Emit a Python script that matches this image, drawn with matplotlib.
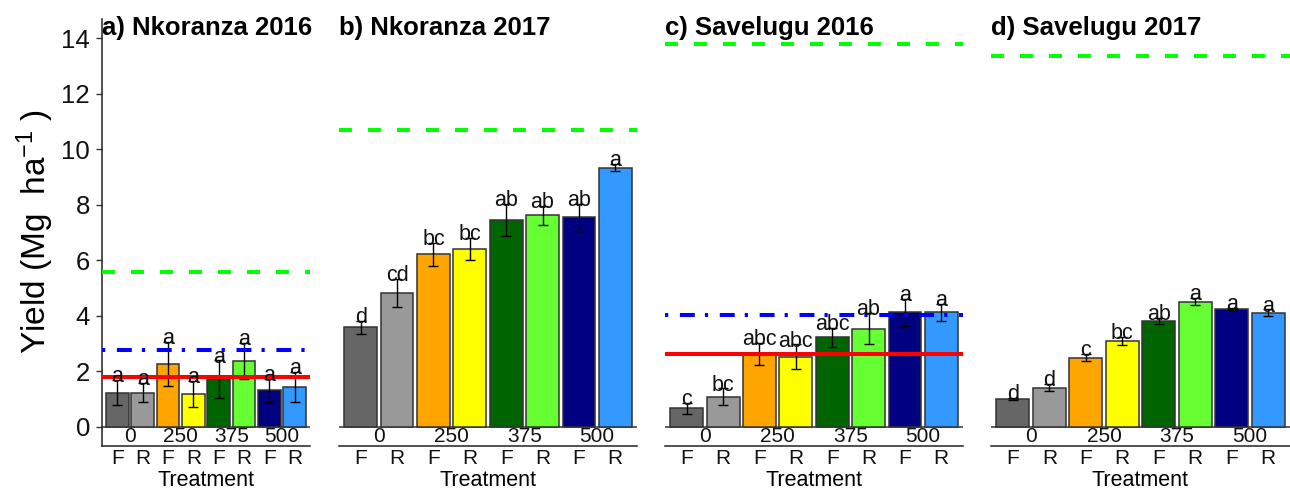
import matplotlib
matplotlib.use("Agg")
import matplotlib.pyplot as plt
import matplotlib.transforms as mtransforms

plt.rcParams['font.family'] = ['Liberation Sans', 'DejaVu Sans']
plt.rcParams['mathtext.fontset'] = 'custom'
plt.rcParams['mathtext.rm'] = 'Liberation Sans'
plt.rcParams['mathtext.default'] = 'regular'

# ---------------- data ----------------
titles = ["a) Nkoranza 2016", "b) Nkoranza 2017", "c) Savelugu 2016", "d) Savelugu 2017"]
rates = ["0", "250", "375", "500"]
methods = ["F", "R", "F", "R", "F", "R", "F", "R"]
bar_colors = ["#666666", "#999999", "#FFA500", "#FFFF00",
              "#006400", "#66FF33", "#000080", "#3399FF"]

yield_a = [1.23, 1.23, 2.27, 1.18, 1.72, 2.37, 1.31, 1.44]
se_a = [0.45, 0.35, 0.80, 0.47, 0.67, 0.65, 0.41, 0.54]
letters_a = ["a", "a", "a", "a", "a", "a", "a", "a"]

yield_b = [3.58, 4.82, 6.21, 6.41, 7.45, 7.62, 7.55, 9.34]
se_b = [0.23, 0.52, 0.42, 0.40, 0.58, 0.35, 0.48, 0.13]
letters_b = ["d", "cd", "bc", "bc", "ab", "ab", "ab", "a"]

yield_c = [0.66, 1.08, 2.62, 2.52, 3.22, 3.53, 4.12, 4.12]
se_c = [0.19, 0.30, 0.40, 0.45, 0.34, 0.56, 0.49, 0.30]
letters_c = ["c", "bc", "abc", "abc", "abc", "ab", "a", "a"]

yield_d = [1.00, 1.40, 2.49, 3.10, 3.80, 4.51, 4.24, 4.11]
se_d = [0.05, 0.13, 0.12, 0.15, 0.11, 0.12, 0.05, 0.12]
letters_d = ["d", "d", "c", "bc", "ab", "a", "a", "a"]

# reference lines per panel (None = absent)
green_line = [5.57, 10.71, 13.80, 13.37]
blue_line = [2.77, None, 4.03, None]
red_line = [1.79, None, 2.63, None]

yields = [yield_a, yield_b, yield_c, yield_d]
ses = [se_a, se_b, se_c, se_d]
letters = [letters_a, letters_b, letters_c, letters_d]

# ---------------- layout ----------------
W, H = 1290, 488
fig = plt.figure(figsize=(W / 100, H / 100), dpi=100)

top_px, bot_px = 18.9, 446.1
panels_px = [(102, 310), (339, 637), (665, 963), (991, 1290)]
ymin, ymax = -0.7, 14.7

def fy(px):
    return (bot_px - px) / (bot_px - top_px)

x = list(range(1, 9))
for i, (l, r) in enumerate(panels_px):
    ax = fig.add_axes([l / W, 1 - bot_px / H, (r - l) / W, (bot_px - top_px) / H])
    ax.set_xlim(0.4, 8.6)
    ax.set_ylim(ymin, ymax)
    for s in ['top', 'right', 'left']:
        ax.spines[s].set_visible(False)
    ax.spines['bottom'].set_color('#222222')
    ax.spines['bottom'].set_linewidth(1.1)
    ax.set_xticks([])
    if i == 0:
        ax.spines['left'].set_visible(True)
        ax.spines['left'].set_color('#222222')
        ax.spines['left'].set_linewidth(1.1)
        ax.set_yticks([0, 2, 4, 6, 8, 10, 12, 14])
        ax.tick_params(axis='y', labelsize=18.5, length=4.3, width=1, pad=4.3,
                       color='#333333', labelcolor='#111111')
    else:
        ax.set_yticks([])

    ax.axhline(0, color='#333333', lw=1.1, zorder=1)
    ax.bar(x, yields[i], width=0.9, color=bar_colors, edgecolor='#333333',
           linewidth=1.1, zorder=2)
    ax.errorbar(x, yields[i], yerr=ses[i], fmt='none', ecolor='black',
                elinewidth=1.0, capsize=3.6, capthick=1.0, zorder=3)

    ax.axhline(green_line[i], color='#00FF00', lw=2.9,
               linestyle=(0, (3.2, 4.0)), zorder=4)
    if blue_line[i] is not None:
        ax.axhline(blue_line[i], color='#0000FF', lw=2.9,
                   linestyle=(0, (0.8, 2.9, 3.7, 2.5)), zorder=4)
    if red_line[i] is not None:
        ax.axhline(red_line[i], color='#FF0000', lw=2.9, zorder=4)

    for xi, yv, se, lt in zip(x, yields[i], ses[i], letters[i]):
        ax.text(xi, yv + se - 0.08, lt, ha='center', va='baseline',
                fontsize=15.5, color='#111111', zorder=5)

    trans = mtransforms.blended_transform_factory(ax.transData, ax.transAxes)
    for k, rt in enumerate(rates):
        ax.text(2 * k + 1.5, fy(436.7), rt, transform=trans, ha='center',
                va='center', fontsize=15, color='#111111')
    for xi, m in zip(x, methods):
        ax.text(xi, fy(459), m, transform=trans, ha='center', va='center',
                fontsize=15, color='#111111', clip_on=False)
    ax.text(0.5, fy(480), "Treatment", transform=ax.transAxes, ha='center',
            va='center', fontsize=15.5, color='black', clip_on=False)

    ax.text(0.0, fy(35), titles[i], transform=ax.transAxes, ha='left',
            va='baseline', fontsize=18.5, fontweight='bold', color='black',
            zorder=6)

fig.text(35 / W, 1 - 232 / H, "Yield (Mg  ha$^{-1}$ )", rotation=90,
         ha='center', va='center', fontsize=24)

fig.savefig("out.png", dpi=100)
